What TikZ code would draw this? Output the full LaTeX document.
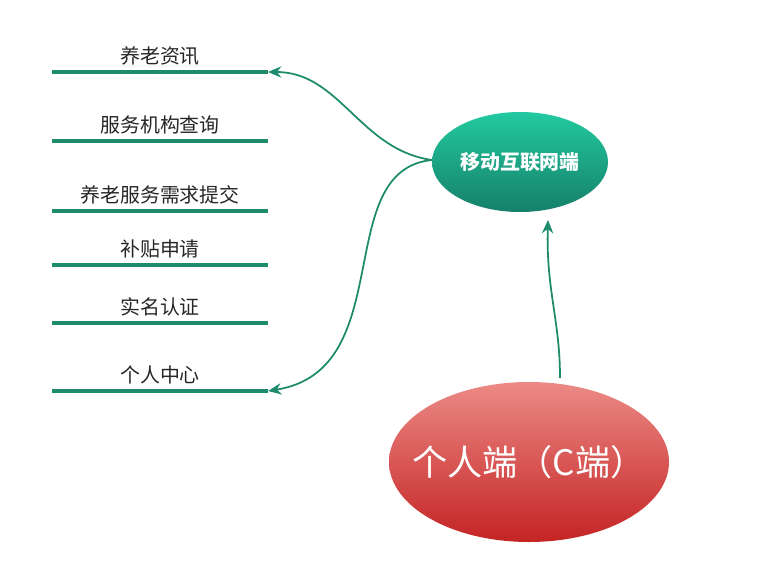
\documentclass[tikz,border=0pt]{standalone}
\usepackage{fontspec}
\setmainfont{Noto Sans CJK SC}
\usetikzlibrary{arrows.meta}
\definecolor{lineGreen}{HTML}{1E8C6C}
\definecolor{topGreen}{HTML}{22C9A0}
\definecolor{botGreen}{HTML}{16806A}
\definecolor{topRed}{HTML}{EC8A86}
\definecolor{botRed}{HTML}{C42424}
\begin{document}
\begin{tikzpicture}[x=0.03cm,y=-0.03cm,
		% Style definitions
		itemline/.style={line width=3.4pt, draw=lineGreen},
		itemlabel/.style={font=\fontsize{17}{20}\selectfont, text=black!85},
		link/.style={-{Stealth[length=4mm,width=3.4mm]}, draw=lineGreen, line width=1.5pt},
		]
		\useasboundingbox (0,0) rectangle (767,572);

		% Items on the left
		\foreach \y/\txt/\nm in {72/养老资讯/i1, 141/服务机构查询/i2, 211/养老服务需求提交/i3,
			265/补贴申请/i4, 323/实名认证/i5, 391/个人中心/i6} {
			\coordinate (\nm l) at (52,\y);
			\coordinate (\nm r) at (268,\y);
			\draw[itemline] (\nm l) -- (\nm r);
			\node[itemlabel, above=2pt] at (160,\y) {\txt};
		}

		% Ellipses
		\shade[top color=topGreen, bottom color=botGreen] (520,162) ellipse [x radius=88, y radius=50];
		\node[text=white, font=\bfseries\fontsize{17}{20}\selectfont] (mobile) at (520,162) {移动互联网端};
		\shade[top color=topRed, bottom color=botRed] (529,462) ellipse [x radius=140, y radius=80];
		\node[text=white, font=\fontsize{30}{34}\selectfont] (personal) at (529,462) {个人端（C端）};

		\coordinate (mobL) at (432,160);
		\coordinate (mobB) at (548,220);
		\coordinate (perT) at (560,378);

		% Connectors
		\draw[link] (mobL) .. controls (360,150) and (340,72) .. (i1r);
		\draw[link] (mobL) .. controls (330,170) and (400,370) .. (i6r);
		\draw[link] (perT) .. controls (560,320) and (546,290) .. (mobB);
	\end{tikzpicture}
\end{document}
